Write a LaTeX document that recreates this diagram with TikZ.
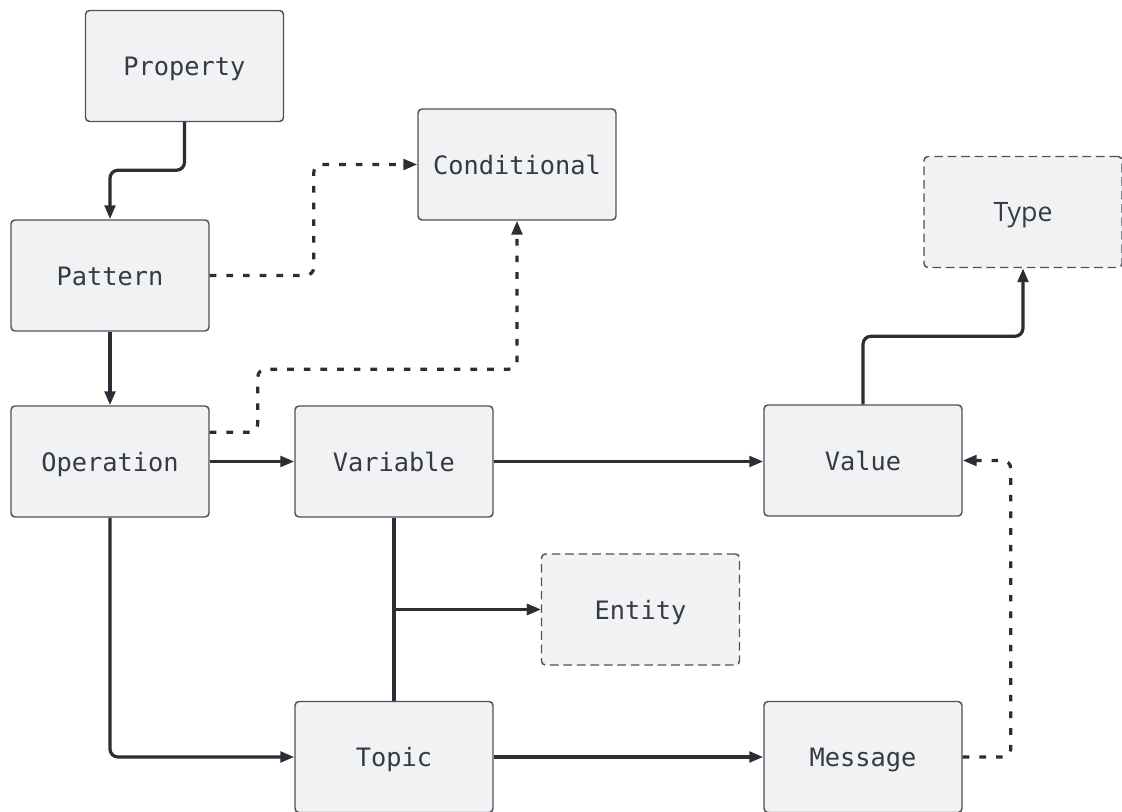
\documentclass[tikz,border=0pt]{standalone}
\usepackage{fontspec}
\setmonofont{DejaVu Sans Mono}
\setsansfont{Open Sans}
\usetikzlibrary{arrows.meta}
\definecolor{boxfill}{HTML}{F1F2F4}
\definecolor{boxline}{HTML}{4E525A}
\definecolor{wire}{HTML}{2B2E35}
\definecolor{label}{HTML}{363A42}
\tikzset{
  box/.style={draw=boxline, line width=1.1pt, fill=boxfill, rounded corners=3pt,
    minimum width=148.5pt, minimum height=83.25pt, inner sep=0pt,
    text height=14.5pt, text depth=0pt,
    text=label, font=\ttfamily\fontsize{19}{22}\selectfont},
  optbox/.style={box, dash pattern=on 6.5pt off 3.6pt},
  conn/.style={draw=wire, line width=2.4pt, rounded corners=6pt,
    -{Triangle[length=10.5pt, width=8pt]}},
  dconn/.style={conn, dash pattern=on 5pt off 7.5pt}
}
\begin{document}
\begin{tikzpicture}[x=0.75pt, y=-0.75pt]
\useasboundingbox (0,0) rectangle (1122,812);

% boxes
\node[box] (property) at (184.5,66) {Property};
\node[box] (conditional) at (517,164.5) {Conditional};
\node[optbox, font=\sffamily\fontsize{20}{23}\selectfont] (type) at (1023,212) {Type};
\node[box] (pattern) at (110,275.5) {Pattern};
\node[box] (operation) at (110,461.5) {Operation};
\node[box] (variable) at (394,461.5) {Variable};
\node[box] (value) at (863,460.5) {Value};
\node[optbox] (entity) at (640.5,609.5) {Entity};
\node[box] (topic) at (394,757) {Topic};
\node[box] (message) at (863,757) {Message};

% solid links
\draw[conn] (property.south) -- ++(0,48) -| (pattern.north);
\draw[conn] (pattern.south) -- (operation.north);
\draw[conn] (operation.east) -- (operation.east -| variable.west);
\draw[conn] (variable.east) -- (variable.east -| value.west);
\draw[conn] (value.north) -- ++(0,-68) -| (type.south);
\draw[conn] (operation.south) |- (topic.west);
\draw[conn, rounded corners=0pt] (variable.south) |- (entity.west);
\draw[conn, rounded corners=0pt] (topic.north) |- (entity.west);
\draw[conn] (topic.east) -- (topic.east -| message.west);

% dotted links
\draw[dconn] (pattern.east) -- ++(104,0) |- (conditional.west);
\draw[dconn] ([yshift=22pt]operation.east) -- ++(48,0) -- ++(0,-63) -| (conditional.south);
\draw[dconn] (message.east) -- ++(48,0) |- (value.east);
\end{tikzpicture}
\end{document}
